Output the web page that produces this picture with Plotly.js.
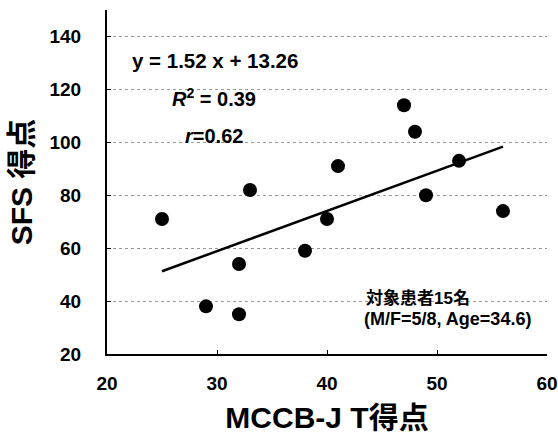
<!DOCTYPE html>
<html><head><meta charset="utf-8">
<script src="https://cdn.plot.ly/plotly-3.0.1.min.js"></script>
<style>html,body{margin:0;padding:0;background:#fff}</style>
</head><body>
<div id="chart" style="width:558px;height:434px"></div>
<script>
const mccbT = [25, 29, 32, 32, 33, 38, 40, 41, 47, 48, 49, 52, 56];
const sfsScore = [71, 38, 54, 35, 82, 59, 71, 91, 114, 104, 80, 93, 74];
const fitSlope = 1.52;
const fitIntercept = 13.26;
const fitXRange = [25, 56];
const xTicks = [20, 30, 40, 50, 60];
const yTicks = [20, 40, 60, 80, 100, 120, 140];
const fitY = fitXRange.map(x => fitSlope * x + fitIntercept);

const F = 'Liberation Sans, Arial, "Noto Sans CJK JP", sans-serif';

const data = [
  {x: fitXRange, y: fitY, mode: 'lines', type: 'scatter',
   line: {color: '#000', width: 2.5}, hoverinfo: 'skip', showlegend: false},
  {x: mccbT, y: sfsScore, mode: 'markers', type: 'scatter',
   marker: {color: '#000', size: 14}, showlegend: false}
];

const layout = {
  width: 558, height: 434,
  margin: {l: 107, r: 11, t: 10, b: 80},
  paper_bgcolor: '#fff', plot_bgcolor: '#fff',
  font: {family: F, color: '#000'},
  xaxis: {
    range: [20, 60], tickvals: xTicks, ticktext: xTicks.map(String),
    showgrid: false, zeroline: false, showline: true, linecolor: '#000', linewidth: 2,
    ticks: 'inside', ticklen: 4, tickcolor: '#000',
    ticklabelstandoff: 11,
    tickfont: {family: F, size: 19, color: '#000', weight: 'bold'},
    title: {text: '<b>MCCB-J T得点</b>', font: {family: F, size: 30, color: '#000'}, standoff: 20}
  },
  yaxis: {
    range: [20, 150], tickvals: yTicks, ticktext: yTicks.map(String),
    showgrid: true, gridcolor: '#999', griddash: 'dot', gridwidth: 1,
    zeroline: false, showline: true, linecolor: '#000', linewidth: 2,
    ticks: 'inside', ticklen: 4, tickcolor: '#000',
    ticklabelstandoff: 20,
    tickfont: {family: F, size: 19, color: '#000', weight: 'bold'},
    title: {text: '<b>SFS 得点</b>', font: {family: F, size: 30, color: '#000'}, standoff: 8}
  },
  annotations: [
    {xref: 'paper', yref: 'paper', x: (215-107)/440, y: (354-60)/344, xanchor: 'center', yanchor: 'middle',
     text: '<b>y = 1.52 x + 13.26</b>', showarrow: false, font: {family: F, size: 20.5, color: '#000'}},
    {xref: 'paper', yref: 'paper', x: (214-107)/440, y: (354-97)/344, xanchor: 'center', yanchor: 'middle',
     text: '<b><i>R</i><sup>2</sup> = 0.39</b>', showarrow: false, font: {family: F, size: 20, color: '#000'}},
    {xref: 'paper', yref: 'paper', x: (214-107)/440, y: (354-136)/344, xanchor: 'center', yanchor: 'middle',
     text: '<b><i>r</i>=0.62</b>', showarrow: false, font: {family: F, size: 20, color: '#000'}},
    {xref: 'paper', yref: 'paper', x: (364-107)/440, y: (354-298)/344, xanchor: 'left', yanchor: 'middle',
     text: '<b>対象患者15名</b>', showarrow: false, font: {family: F, size: 17, color: '#000'}},
    {xref: 'paper', yref: 'paper', x: (362-107)/440, y: (354-319)/344, xanchor: 'left', yanchor: 'middle',
     text: '<b>(M/F=5/8, Age=34.6)</b>', showarrow: false, font: {family: F, size: 18, color: '#000'}}
  ]
};

Plotly.newPlot('chart', data, layout, {displayModeBar: false, staticPlot: true});
</script>
</body></html>
